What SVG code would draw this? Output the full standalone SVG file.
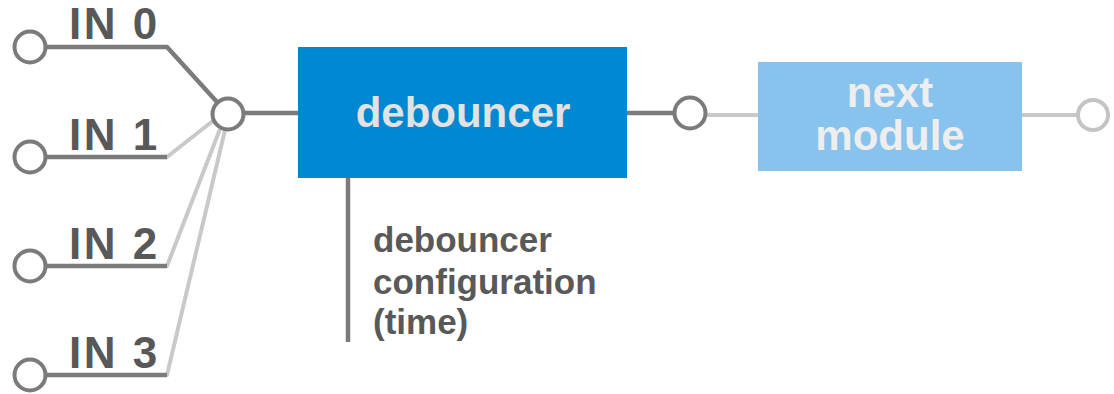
<svg xmlns="http://www.w3.org/2000/svg" width="1114" height="394" viewBox="0 0 1114 394">
<style>
.dk{stroke:#7b7b7b;stroke-width:4.5;fill:none;stroke-linejoin:round}
.lt{stroke:#c9c9c9;stroke-width:4;fill:none;stroke-linejoin:round}
.port{fill:#fff;stroke:#7b7b7b;stroke-width:4}
.portl{fill:#fff;stroke:#c4c4c4;stroke-width:4}
.lbl{font-family:"Liberation Sans",Arial,sans-serif;font-weight:bold;font-size:44px;fill:#585858;letter-spacing:2.5px}
.box{font-family:"Liberation Sans",Arial,sans-serif;font-weight:bold;font-size:42px;text-anchor:middle}
.cfg{font-family:"Liberation Sans",Arial,sans-serif;font-weight:bold;font-size:35px;fill:#595959}
</style>
<rect width="1114" height="394" fill="#fff"/>
<g id="connectors">
<polyline class="lt" points="46,157 167,157 214,120"/>
<polyline class="lt" points="46,266 167,266 220,129"/>
<polyline class="lt" points="46,375 167,375 225,130"/>
<line class="dk" x1="46" y1="157" x2="167" y2="157"/>
<line class="dk" x1="46" y1="266" x2="167" y2="266"/>
<line class="dk" x1="46" y1="375" x2="167" y2="375"/>
<polyline class="dk" points="46,47 167,47 217,102"/>
<line class="dk" x1="244" y1="113" x2="300" y2="113"/>
<line class="dk" x1="627" y1="113" x2="674" y2="113"/>
<line class="lt" x1="706" y1="115" x2="760" y2="115"/>
<line class="lt" x1="1021" y1="115" x2="1077" y2="115"/>
<line class="dk" x1="348" y1="178" x2="348" y2="342"/>
</g>
<g id="in0"><circle class="port" cx="30" cy="47" r="15.5"/><text class="lbl" x="69" y="39">IN 0</text></g>
<g id="in1"><circle class="port" cx="30" cy="157" r="15.5"/><text class="lbl" x="69" y="150">IN 1</text></g>
<g id="in2"><circle class="port" cx="30" cy="266" r="15.5"/><text class="lbl" x="69" y="259">IN 2</text></g>
<g id="in3"><circle class="port" cx="30" cy="375" r="15.5"/><text class="lbl" x="69" y="368">IN 3</text></g>
<g id="junction"><circle class="port" cx="228" cy="114" r="15.5"/></g>
<g id="debouncer"><rect x="298" y="47" width="329" height="131" fill="#0088d2"/><text class="box" x="463" y="127" fill="#e2e2e2">debouncer</text></g>
<g id="out-port"><circle class="port" cx="690" cy="113" r="15.5"/></g>
<g id="next-module"><rect x="758" y="62" width="264" height="109" fill="#88c3ed"/><text class="box" x="890" y="107" fill="#eeeeee">next</text><text class="box" x="890" y="150" fill="#eeeeee">module</text></g>
<g id="end-port"><circle class="portl" cx="1093" cy="115" r="15"/></g>
<g id="config"><text class="cfg" x="373" y="252">debouncer</text><text class="cfg" x="373" y="294">configuration</text><text class="cfg" x="373" y="334">(time)</text></g>
</svg>
